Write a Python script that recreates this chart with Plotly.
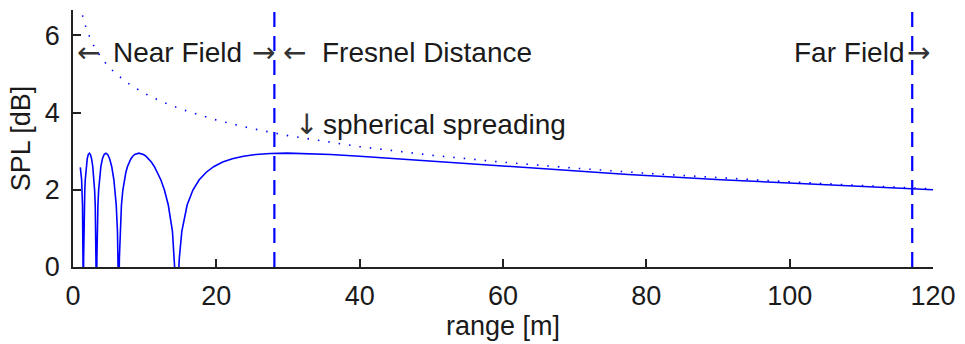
import plotly.graph_objects as go

# ---- data ----
range_m = [1.02, 1.2034, 1.3257, 1.388, 1.4194, 1.4515, 1.4828, 1.5146, 1.5798, 1.645, 1.7114, 1.8474,
           1.9872, 2.1312, 2.280, 2.4332, 2.5917, 2.7564, 2.9269, 3.0143, 3.1039, 3.1950, 3.2413, 3.288,
           3.3353, 3.383, 3.480, 3.5793, 3.6806, 3.8902, 4.1098, 4.3407, 4.584, 4.8402, 5.1115, 5.399,
           5.7053, 5.8662, 6.0322, 6.2041, 6.2924, 6.382, 6.4735, 6.5665, 6.7584, 6.9577, 7.1644, 7.380,
           7.6047, 7.839, 8.0843, 8.340, 8.6085, 9.187, 9.826, 10.173, 10.540, 10.929, 11.343, 11.783,
           12.253, 12.756, 13.296, 13.878, 14.184, 14.504,
           14.838, 15.184, 15.925, 16.732, 17.618, 18.595, 19.678, 20.885, 22.240, 23.773, 25.521, 27.534,
           29.88, 32.646, 35.962, 40.009, 45.06, 49.192, 54.143, 60.194, 67.756, 77.461, 90.41, 108.53, 120.0]
spl_db = [2.58, 2.261, 1.606, 0.925, 0.237, -1.0, 0.237, 0.925, 1.606, 1.995, 2.261, 2.605,
          2.807, 2.915, 2.95, 2.915, 2.807, 2.605, 2.261, 1.995, 1.606, 0.925, 0.237, -1.0,
          0.237, 0.925, 1.606, 1.995, 2.261, 2.605, 2.807, 2.915, 2.95, 2.915, 2.807, 2.605,
          2.261, 1.995, 1.606, 0.925, 0.237, -1.0, 0.237, 0.925, 1.606, 1.995, 2.261, 2.456,
          2.605, 2.720, 2.807, 2.871, 2.915, 2.95, 2.915, 2.871, 2.807, 2.720, 2.605, 2.456,
          2.261, 1.995, 1.606, 0.925, 0.237, -1.0,
          0.237, 0.925, 1.606, 1.995, 2.261, 2.456, 2.605, 2.720, 2.807, 2.871, 2.915, 2.9415,
          2.95, 2.9415, 2.915, 2.871, 2.807, 2.752, 2.685, 2.605, 2.511, 2.397, 2.261, 2.094, 2.00]

sph_range = [1.0, 1.2, 1.5, 2.0, 2.5, 3.0, 4.0, 5.0, 6.0, 8.0, 10.0, 12.0, 15.0, 20.0, 25.0, 30.0,
             40.0, 50.0, 60.0, 70.0, 80.0, 90.0, 100.0, 110.0, 120.0]
sph_spl = [6.787, 6.606, 6.384, 6.098, 5.876, 5.694, 5.408, 5.186, 5.005, 4.719, 4.497, 4.316,
           4.094, 3.808, 3.586, 3.404, 3.118, 2.896, 2.715, 2.562, 2.429, 2.312, 2.207, 2.112, 2.026]

fresnel_distance = 28.1
far_field = 117.1

x_ticks = [0, 20, 40, 60, 80, 100, 120]
y_ticks = [0, 2, 4, 6]

BLUE = "#0000FF"
FONT = "Liberation Sans, Arial, sans-serif"
ARROW_FONT = "DejaVu Sans, sans-serif"
TXT = "#1a1a1a"

fig = go.Figure()
fig.add_trace(go.Scatter(x=sph_range, y=sph_spl, mode="lines",
                         line=dict(color=BLUE, width=1.6, dash="1.5px,9px"),
                         hoverinfo="skip", showlegend=False))
fig.add_trace(go.Scatter(x=range_m, y=spl_db, mode="lines",
                         line=dict(color=BLUE, width=1.6),
                         hoverinfo="skip", showlegend=False))

for xv in [fresnel_distance, far_field]:
    fig.add_shape(type="line", xref="x", yref="paper", x0=xv, x1=xv, y0=0, y1=1,
                  line=dict(color=BLUE, width=2.2, dash="15px,9px"))

ann_font = dict(family=FONT, size=28, color=TXT)
arrow_font = dict(family=ARROW_FONT, size=28, color="#333333")
row1 = 5.57
row2 = 3.68
texts = [
    ("\u2190", 0.24, row1, "left", arrow_font),
    ("Near Field", 5.27, row1, "left", ann_font),
    ("\u2192", 28.4, row1, "right", arrow_font),
    ("\u2190", 29.0, row1, "left", arrow_font),
    ("Fresnel Distance", 34.4, row1, "left", ann_font),
    ("Far Field", 100.3, row1, "left", ann_font),
    ("\u2192", 119.9, row1, "right", arrow_font),
    ("\u2193", 30.7, row2, "left", arrow_font),
    ("spherical spreading", 34.66, row2, "left", ann_font),
]
for t, xv, yv, anc, fnt in texts:
    fig.add_annotation(x=xv, y=yv, text=t, showarrow=False, xanchor=anc, yanchor="middle",
                       font=fnt, xref="x", yref="y")

fig.update_layout(
    width=965, height=344,
    margin=dict(l=73, r=32, t=10, b=77),
    paper_bgcolor="white", plot_bgcolor="white",
    font=dict(family=FONT, size=27, color=TXT),
)
fig.update_xaxes(range=[0, 120], tickvals=x_ticks, ticks="inside", ticklen=8, tickwidth=1.5,
                 tickcolor="#222", showline=True, linecolor="#222", linewidth=1.5,
                 showgrid=False, zeroline=False, ticklabelstandoff=4,
                 title=dict(text="range [m]", font=dict(size=27), standoff=2))
fig.update_yaxes(range=[0, 6.66], tickvals=y_ticks, ticks="inside", ticklen=8, tickwidth=1.5,
                 tickcolor="#222", showline=True, linecolor="#222", linewidth=1.5,
                 showgrid=False, zeroline=False, ticklabelstandoff=6,
                 title=dict(text="SPL [dB]", font=dict(size=27), standoff=6))

fig.write_html("out.html")
